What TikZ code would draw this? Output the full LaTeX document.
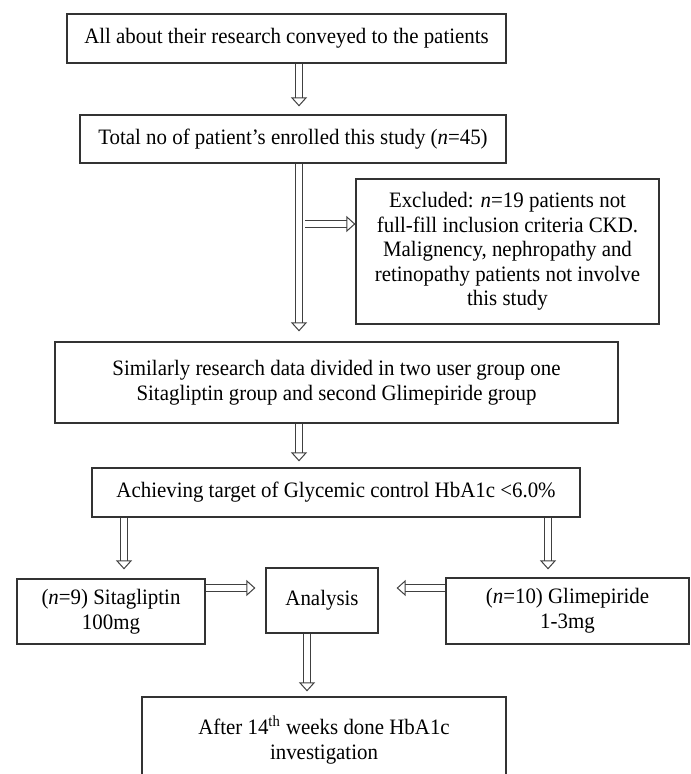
\documentclass[tikz,border=0pt]{standalone}
\usepackage{fontspec}
\setmainfont{Liberation Serif}[FakeStretch=0.95]
\usetikzlibrary{arrows.meta}
\tikzset{
  box/.style={draw=black!80, line width=0.6pt, align=center, inner sep=0pt, font=\fontsize{11}{12.3}\selectfont},
  blk/.style={draw=black!75, line width=0.5pt, double=white, double distance=2.8pt, -{Triangle[open, length=4.5pt, width=8pt]}},
}

\begin{document}
\begin{tikzpicture}[x=0.5pt, y=-0.5pt]
\useasboundingbox (0,0) rectangle (690,774);

% Main column
\node[box, minimum width=219.5pt, minimum height=24.5pt] (intro) at (286.5,38.5) {All about their research conveyed to the patients};
\node[box, minimum width=213pt, minimum height=24pt] (enrol) at (293,139) {Total no of patient’s enrolled this study (\textit{n}=45)};
\node[box, minimum width=151.5pt, minimum height=72.5pt] (excl) at (507.5,251.5) {Excluded: \textit{n}=19 patients not\\ full-fill inclusion criteria CKD.\\ Malignency, nephropathy and\\ retinopathy patients not involve\\ this study};
\node[box, minimum width=281.5pt, minimum height=40.5pt] (split) at (336.5,382.5) {Similarly research data divided in two user group one\\ Sitagliptin group and second Glimepiride group};
\node[box, minimum width=244pt, minimum height=24.5pt] (target) at (336,492.5) {Achieving target of Glycemic control HbA1c <6.0\%};

% Groups
\node[box, minimum width=94pt, minimum height=32.5pt] (sita) at (111,611.5) {(\textit{n}=9) Sitagliptin\\ 100mg};
\node[box, minimum width=56pt, minimum height=32.5pt] (analysis) at (322,600.5) {Analysis};
\node[box, minimum width=121.5pt, minimum height=33pt] (glim) at (567.5,611) {(\textit{n}=10) Glimepiride\\ 1-3mg};
\node[box, minimum width=182pt, minimum height=43pt] (after) at (324,740) {After 14\textsuperscript{th} weeks done HbA1c\\ investigation};

% Arrows
\coordinate (colA) at (299,0);
\coordinate (side) at (305,224);
\coordinate (colL) at (124,0);
\coordinate (colR) at (548,0);
\coordinate (rowG) at (0,588);
\coordinate (colB) at (307,0);
\draw[blk, shorten >=4pt] (intro.south -| colA) -- (enrol.north -| colA);
\draw[blk, shorten >=5pt] (enrol.south -| colA) -- (split.north -| colA);
\draw[blk] (side) -- (excl.west |- side);
\draw[blk, shorten >=3pt] (split.south -| colA) -- (target.north -| colA);
\draw[blk, shorten >=4.5pt] (target.south -| colL) -- (sita.north -| colL);
\draw[blk, shorten >=4pt] (target.south -| colR) -- (glim.north -| colR);
\draw[blk, shorten >=5pt] (sita.east |- rowG) -- (analysis.west |- rowG);
\draw[blk, shorten >=9pt] (glim.west |- rowG) -- (analysis.east |- rowG);
\draw[blk, shorten >=2.5pt] (analysis.south -| colB) -- (after.north -| colB);
\end{tikzpicture}
\end{document}
